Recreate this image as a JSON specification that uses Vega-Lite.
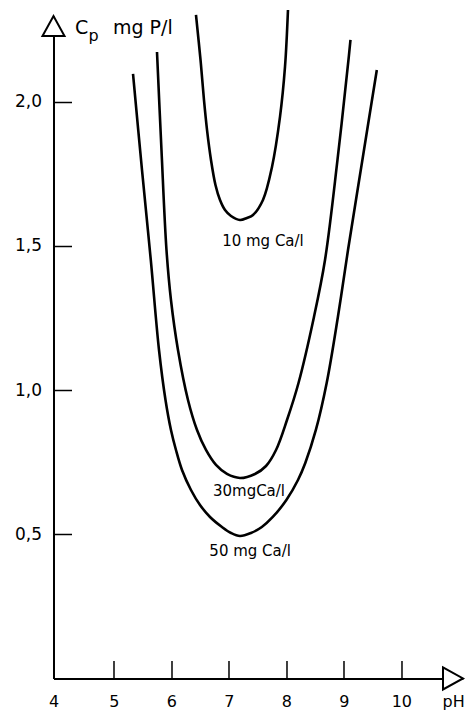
{
  "$schema": "https://vega.github.io/schema/vega-lite/v6.json",
  "width": 409.4,
  "height": 662.5,
  "autosize": "none",
  "padding": {"left": 53.5, "top": 16, "right": 6, "bottom": 31.5},
  "background": "white",
  "config": {"view": {"stroke": null}, "font": "DejaVu Sans"},
  "datasets": {
    "curves": [
      {"curve": "10", "x": 6.428, "y": 2.3006},
      {"curve": "10", "x": 6.507, "y": 2.1446},
      {"curve": "10", "x": 6.567, "y": 2.0059},
      {"curve": "10", "x": 6.62, "y": 1.9019},
      {"curve": "10", "x": 6.689, "y": 1.7979},
      {"curve": "10", "x": 6.767, "y": 1.7112},
      {"curve": "10", "x": 6.846, "y": 1.6592},
      {"curve": "10", "x": 6.933, "y": 1.6245},
      {"curve": "10", "x": 7.037, "y": 1.6037},
      {"curve": "10", "x": 7.193, "y": 1.5898},
      {"curve": "10", "x": 7.315, "y": 1.5968},
      {"curve": "10", "x": 7.42, "y": 1.6072},
      {"curve": "10", "x": 7.593, "y": 1.6592},
      {"curve": "10", "x": 7.75, "y": 1.7736},
      {"curve": "10", "x": 7.889, "y": 1.947},
      {"curve": "10", "x": 7.976, "y": 2.1203},
      {"curve": "10", "x": 8.028, "y": 2.318},
      {"curve": "30", "x": 5.75, "y": 2.1723},
      {"curve": "30", "x": 5.828, "y": 1.8325},
      {"curve": "30", "x": 5.915, "y": 1.4858},
      {"curve": "30", "x": 5.993, "y": 1.3124},
      {"curve": "30", "x": 6.115, "y": 1.139},
      {"curve": "30", "x": 6.289, "y": 0.9657},
      {"curve": "30", "x": 6.446, "y": 0.8617},
      {"curve": "30", "x": 6.602, "y": 0.7923},
      {"curve": "30", "x": 6.776, "y": 0.7403},
      {"curve": "30", "x": 6.967, "y": 0.7091},
      {"curve": "30", "x": 7.193, "y": 0.6952},
      {"curve": "30", "x": 7.454, "y": 0.7091},
      {"curve": "30", "x": 7.646, "y": 0.7368},
      {"curve": "30", "x": 7.82, "y": 0.7923},
      {"curve": "30", "x": 8.011, "y": 0.8963},
      {"curve": "30", "x": 8.211, "y": 1.0246},
      {"curve": "30", "x": 8.48, "y": 1.2535},
      {"curve": "30", "x": 8.672, "y": 1.4511},
      {"curve": "30", "x": 8.889, "y": 1.7979},
      {"curve": "30", "x": 9.08, "y": 2.1446},
      {"curve": "30", "x": 9.115, "y": 2.214},
      {"curve": "50", "x": 5.333, "y": 2.096},
      {"curve": "50", "x": 5.489, "y": 1.7632},
      {"curve": "50", "x": 5.642, "y": 1.4511},
      {"curve": "50", "x": 5.785, "y": 1.139},
      {"curve": "50", "x": 5.898, "y": 0.9657},
      {"curve": "50", "x": 5.993, "y": 0.8617},
      {"curve": "50", "x": 6.08, "y": 0.7923},
      {"curve": "50", "x": 6.185, "y": 0.723},
      {"curve": "50", "x": 6.341, "y": 0.6536},
      {"curve": "50", "x": 6.498, "y": 0.6016},
      {"curve": "50", "x": 6.672, "y": 0.56},
      {"curve": "50", "x": 6.88, "y": 0.5253},
      {"curve": "50", "x": 7.037, "y": 0.5045},
      {"curve": "50", "x": 7.193, "y": 0.4941},
      {"curve": "50", "x": 7.385, "y": 0.5045},
      {"curve": "50", "x": 7.573, "y": 0.5253},
      {"curve": "50", "x": 7.764, "y": 0.56},
      {"curve": "50", "x": 8.0, "y": 0.6189},
      {"curve": "50", "x": 8.202, "y": 0.6883},
      {"curve": "50", "x": 8.329, "y": 0.7472},
      {"curve": "50", "x": 8.513, "y": 0.8617},
      {"curve": "50", "x": 8.701, "y": 1.0246},
      {"curve": "50", "x": 8.896, "y": 1.2535},
      {"curve": "50", "x": 9.072, "y": 1.4858},
      {"curve": "50", "x": 9.322, "y": 1.7979},
      {"curve": "50", "x": 9.573, "y": 2.1099}
    ],
    "curveLabels": [
      {"x": 7.593, "y": 1.517, "text": "10 mg Ca/l"},
      {"x": 7.35, "y": 0.65, "text": "30mgCa/l"},
      {"x": 7.37, "y": 0.442, "text": "50 mg Ca/l"}
    ],
    "arrows": [
      {"axis": "y", "x": 3.95, "y": 2.262},
      {"axis": "x", "x": 10.898, "y": 0}
    ]
  },
  "layer": [
    {
      "data": {"name": "curves"},
      "mark": {"type": "line", "interpolate": "catmull-rom", "color": "black", "strokeWidth": 2.6},
      "encoding": {
        "x": {
          "field": "x", "type": "quantitative",
          "scale": {"domain": [3.95, 11.07], "nice": false, "zero": false},
          "axis": {
            "title": null, "grid": false,
            "values": [3.95, 5, 6, 7, 8, 9, 10, 10.9],
            "labelExpr": "datum.value > 10.5 ? 'pH' : (datum.value < 4.5 ? '4' : format(datum.value, 'd'))",
            "tickOpacity": {"condition": {"test": "datum.value < 4.5 || datum.value > 10.5", "value": 0}, "value": 1},
            "tickSize": -18, "tickWidth": 1.5, "tickColor": "black",
            "domainColor": "black", "domainWidth": 2,
            "labelFontSize": 16, "labelColor": "black", "labelPadding": 33,
            "labelFont": "DejaVu Sans", "labelFlush": false, "labelOverlap": false
          }
        },
        "y": {
          "field": "y", "type": "quantitative",
          "scale": {"domain": [0, 2.297], "nice": false},
          "axis": {
            "title": null, "grid": false,
            "values": [0.5, 1, 1.5, 2],
            "labelExpr": "replace(format(datum.value, '.1f'), '.', ',')",
            "tickSize": -18, "tickWidth": 1.5, "tickColor": "black",
            "domainColor": "black", "domainWidth": 2,
            "labelFontSize": 17, "labelColor": "black", "labelPadding": 30,
            "labelFont": "DejaVu Sans", "labelFlush": false, "labelOverlap": false
          }
        },
        "detail": {"field": "curve", "type": "nominal"}
      }
    },
    {
      "data": {"name": "curveLabels"},
      "mark": {"type": "text", "fontSize": 15, "color": "black", "align": "center", "baseline": "middle"},
      "encoding": {
        "x": {"field": "x", "type": "quantitative"},
        "y": {"field": "y", "type": "quantitative"},
        "text": {"field": "text"}
      }
    },
    {
      "data": {"values": [{"x": 4.324, "y": 2.235, "text": "C"}, {"x": 4.985, "y": 2.235, "text": "mg P/l"}]},
      "mark": {"type": "text", "fontSize": 19, "color": "black", "align": "left", "baseline": "alphabetic"},
      "encoding": {
        "x": {"field": "x", "type": "quantitative"},
        "y": {"field": "y", "type": "quantitative"},
        "text": {"field": "text"}
      }
    },
    {
      "data": {"values": [{"x": 4.56, "y": 2.212, "text": "p"}]},
      "mark": {"type": "text", "fontSize": 16, "color": "black", "align": "left", "baseline": "alphabetic"},
      "encoding": {
        "x": {"field": "x", "type": "quantitative"},
        "y": {"field": "y", "type": "quantitative"},
        "text": {"field": "text"}
      }
    },
    {
      "data": {"name": "arrows"},
      "mark": {"type": "point", "size": 400, "filled": false, "fill": "white", "fillOpacity": 1, "stroke": "black", "strokeWidth": 2, "opacity": 1},
      "encoding": {
        "x": {"field": "x", "type": "quantitative"},
        "y": {"field": "y", "type": "quantitative"},
        "shape": {
          "field": "axis", "type": "nominal", "legend": null,
          "scale": {"domain": ["y", "x"], "range": ["M-1.1,1L0,-1L1.1,1Z", "M-1,-1.1L1,0L-1,1.1Z"]}
        }
      }
    }
  ]
}
